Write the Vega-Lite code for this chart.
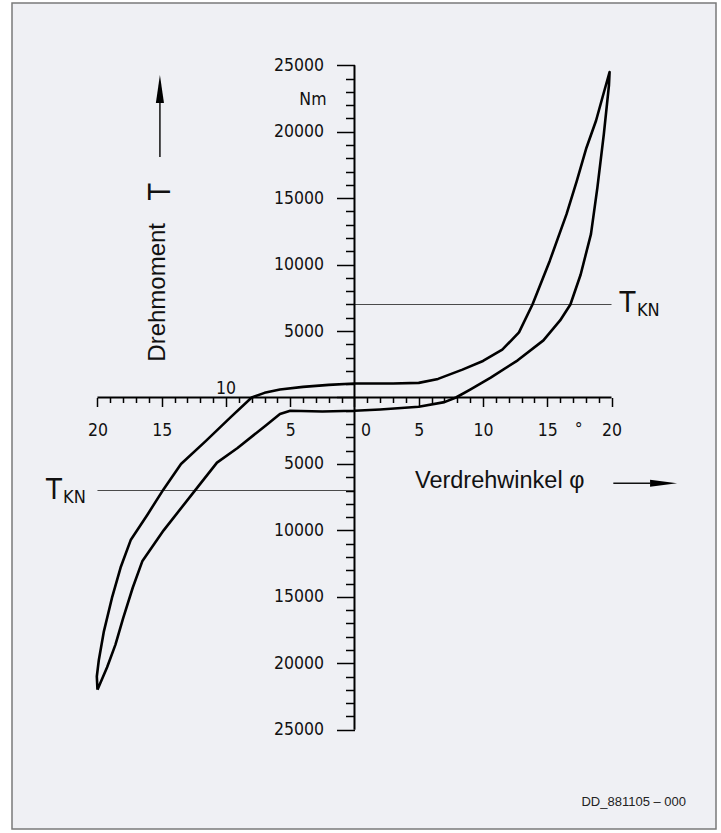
{
  "$schema": "https://vega.github.io/schema/vega-lite/v6.json",
  "width": 704,
  "height": 826,
  "autosize": {"type": "none"},
  "padding": {"left": 12, "top": 3, "right": 5, "bottom": 4},
  "background": "#ffffff",
  "config": {"view": {"fill": "#eff0f4", "stroke": "#7a7a7a", "strokeWidth": 1.5}},
  "datasets": {
    "curve": [
      {"o": 1, "a": -20.0, "t": -22000}, {"o": 2, "a": -20.05, "t": -21000}, {"o": 3, "a": -19.9, "t": -19800},
      {"o": 4, "a": -19.5, "t": -17600}, {"o": 5, "a": -18.85, "t": -15000}, {"o": 6, "a": -18.2, "t": -12800},
      {"o": 7, "a": -17.4, "t": -10700}, {"o": 8, "a": -16.1, "t": -8800}, {"o": 9, "a": -14.85, "t": -6900},
      {"o": 10, "a": -13.5, "t": -5000}, {"o": 11, "a": -11.6, "t": -3300}, {"o": 12, "a": -9.65, "t": -1500},
      {"o": 13, "a": -8.0, "t": 0}, {"o": 14, "a": -7.0, "t": 350}, {"o": 15, "a": -5.8, "t": 600},
      {"o": 16, "a": -4.0, "t": 800}, {"o": 17, "a": -2.0, "t": 950}, {"o": 18, "a": 0, "t": 1050},
      {"o": 19, "a": 3, "t": 1050}, {"o": 20, "a": 5, "t": 1100}, {"o": 21, "a": 6.5, "t": 1400},
      {"o": 22, "a": 8.4, "t": 2100}, {"o": 23, "a": 10.0, "t": 2750}, {"o": 24, "a": 11.5, "t": 3600},
      {"o": 25, "a": 12.8, "t": 4900}, {"o": 26, "a": 13.85, "t": 7000}, {"o": 27, "a": 15.2, "t": 10300},
      {"o": 28, "a": 16.5, "t": 13800}, {"o": 29, "a": 17.3, "t": 16300}, {"o": 30, "a": 18.05, "t": 18800},
      {"o": 31, "a": 18.8, "t": 20850}, {"o": 32, "a": 19.3, "t": 22600}, {"o": 33, "a": 19.85, "t": 24500},
      {"o": 34, "a": 19.8, "t": 23500}, {"o": 35, "a": 19.4, "t": 19800}, {"o": 36, "a": 18.9, "t": 15800},
      {"o": 37, "a": 18.4, "t": 12300}, {"o": 38, "a": 17.6, "t": 9260}, {"o": 39, "a": 16.8, "t": 7000},
      {"o": 40, "a": 16.0, "t": 5800}, {"o": 41, "a": 14.7, "t": 4300}, {"o": 42, "a": 12.7, "t": 2800},
      {"o": 43, "a": 10.6, "t": 1500}, {"o": 44, "a": 9.0, "t": 600}, {"o": 45, "a": 7.9, "t": 0},
      {"o": 46, "a": 7.0, "t": -350}, {"o": 47, "a": 5.0, "t": -700}, {"o": 48, "a": 2.0, "t": -900},
      {"o": 49, "a": 0, "t": -1000}, {"o": 50, "a": -2.5, "t": -1050}, {"o": 51, "a": -5.0, "t": -1000},
      {"o": 52, "a": -5.8, "t": -1250}, {"o": 53, "a": -6.9, "t": -2100}, {"o": 54, "a": -9.1, "t": -3800},
      {"o": 55, "a": -10.7, "t": -4900}, {"o": 56, "a": -12.25, "t": -6800}, {"o": 57, "a": -14.85, "t": -10000},
      {"o": 58, "a": -16.5, "t": -12300}, {"o": 59, "a": -17.25, "t": -14300}, {"o": 60, "a": -18.0, "t": -16600},
      {"o": 61, "a": -18.6, "t": -18600}, {"o": 62, "a": -19.25, "t": -20300}, {"o": 63, "a": -20.0, "t": -22000}
    ],
    "refs": [
      {"a": 0, "a2": 20, "t": 7000, "t2": 7000},
      {"a": -20, "a2": 0, "t": -7000, "t2": -7000}
    ],
    "axislines": [
      {"a": -20, "a2": 20, "t": 0, "t2": 0},
      {"a": 0, "a2": 0, "t": -25000, "t2": 25000}
    ],
    "shafts": [
      {"a": -15.14, "a2": -15.14, "t": 18100, "t2": 22390},
      {"a": 20.14, "a2": 23.0, "t": -6458, "t2": -6458}
    ]
  },
  "encoding": {
    "x": {
      "field": "a", "type": "quantitative",
      "scale": {"domain": [-26.65, 28.13], "nice": false, "zero": false},
      "axis": {
        "orient": "bottom", "offset": -431.5, "title": null, "domain": false, "grid": false,
        "values": [-20,-19,-18,-17,-16,-15,-14,-13,-12,-11,-10,-9,-8,-7,-6,-5,-4,-3,-2,-1,0,1,2,3,4,5,6,7,8,9,10,11,12,13,14,15,16,17,18,19,20],
        "tickSize": {"condition": {"test": "datum.value % 5 === 0", "value": 9}, "value": 5},
        "tickColor": "#000000", "tickWidth": 1.5,
        "labelExpr": "(datum.value % 5 === 0 && datum.value !== -10) ? format(abs(datum.value), 'd') : ''",
        "labelOffset": {"condition": {"test": "datum.value === 0", "value": 11}, "value": 0},
        "labelFont": "DejaVu Sans Condensed, Liberation Sans Narrow, sans-serif",
        "labelFontSize": 17.5, "labelColor": "#111111", "labelPadding": 15,
        "labelOverlap": false, "labelBound": false, "labelFlush": false
      }
    },
    "y": {
      "field": "t", "type": "quantitative",
      "scale": {"domain": [-32478, 29693], "nice": false, "zero": false},
      "axis": {
        "orient": "left", "offset": -342.5, "title": null, "domain": false, "grid": false,
        "values": [-25000,-24000,-23000,-22000,-21000,-20000,-19000,-18000,-17000,-16000,-15000,-14000,-13000,-12000,-11000,-10000,-9000,-8000,-7000,-6000,-5000,-4000,-3000,-2000,-1000,0,1000,2000,3000,4000,5000,6000,7000,8000,9000,10000,11000,12000,13000,14000,15000,16000,17000,18000,19000,20000,21000,22000,23000,24000,25000],
        "tickSize": {"condition": {"test": "datum.value % 5000 === 0", "value": 18}, "value": 9},
        "tickColor": "#000000", "tickWidth": 1.5,
        "labelExpr": "(datum.value % 5000 === 0 && datum.value !== 0) ? format(abs(datum.value), 'd') : ''",
        "labelFont": "DejaVu Sans Condensed, Liberation Sans Narrow, sans-serif",
        "labelFontSize": 17.5, "labelColor": "#111111", "labelPadding": 13,
        "labelOverlap": false, "labelBound": false, "labelFlush": false
      }
    }
  },
  "layer": [
    {
      "data": {"name": "refs"},
      "mark": {"type": "rule", "color": "#4a4a4a", "strokeWidth": 1.2},
      "encoding": {"x2": {"field": "a2"}, "y2": {"field": "t2"}}
    },
    {
      "data": {"name": "axislines"},
      "mark": {"type": "rule", "color": "#000000", "strokeWidth": 2},
      "encoding": {"x2": {"field": "a2"}, "y2": {"field": "t2"}}
    },
    {
      "data": {"name": "curve"},
      "mark": {"type": "line", "color": "#000000", "strokeWidth": 2.6, "strokeJoin": "round"},
      "encoding": {"order": {"field": "o", "type": "quantitative"}}
    },
    {
      "data": {"name": "shafts"},
      "mark": {"type": "rule", "color": "#111111", "strokeWidth": 1.5},
      "encoding": {"x2": {"field": "a2"}, "y2": {"field": "t2"}}
    },
    {
      "data": {"values": [{"a": -15.14, "t": 23220}]},
      "mark": {"type": "point", "shape": "M0,-1L0.29,1L-0.29,1Z", "size": 784, "filled": true, "color": "#000000", "opacity": 1}
    },
    {
      "data": {"values": [{"a": 24.05, "t": -6458}]},
      "mark": {"type": "point", "shape": "M1,0L-1,-0.26L-1,0.26Z", "size": 729, "filled": true, "color": "#000000", "opacity": 1}
    },
    {
      "data": {"values": [{"a": -10, "t": 0, "label": "10"}]},
      "mark": {"type": "text", "align": "center", "baseline": "alphabetic", "dy": -3, "font": "DejaVu Sans Condensed, Liberation Sans Narrow, sans-serif", "fontSize": 17.5, "color": "#111111"},
      "encoding": {"text": {"field": "label"}}
    },
    {
      "data": {"values": [{"a": 17.44, "t": 0, "label": "°"}]},
      "mark": {"type": "text", "align": "center", "baseline": "top", "dy": 24, "font": "DejaVu Sans Condensed, Liberation Sans Narrow, sans-serif", "fontSize": 17.5, "color": "#111111"},
      "encoding": {"text": {"field": "label"}}
    },
    {
      "data": {"values": [{"a": 0, "t": 22400, "label": "Nm"}]},
      "mark": {"type": "text", "align": "right", "baseline": "middle", "dx": -28, "font": "DejaVu Sans Condensed, Liberation Sans Narrow, sans-serif", "fontSize": 17.5, "color": "#111111"},
      "encoding": {"text": {"field": "label"}}
    },
    {
      "data": {"values": [{"a": 21.25, "t": 6405, "label": "T"}, {"a": -23.39, "t": -7611, "label": "T"}]},
      "mark": {"type": "text", "align": "center", "baseline": "alphabetic", "font": "DejaVu Sans Condensed, Liberation Sans Narrow, sans-serif", "fontSize": 29, "color": "#111111"},
      "encoding": {"text": {"field": "label"}}
    },
    {
      "data": {"values": [{"a": 21.98, "t": 6142, "label": "KN"}, {"a": -22.68, "t": -7913, "label": "KN"}]},
      "mark": {"type": "text", "align": "left", "baseline": "alphabetic", "font": "DejaVu Sans Condensed, Liberation Sans Narrow, sans-serif", "fontSize": 18, "color": "#111111"},
      "encoding": {"text": {"field": "label"}}
    },
    {
      "data": {"values": [{"a": -14.75, "t": 2695, "label": "Drehmoment"}]},
      "mark": {"type": "text", "angle": 270, "align": "left", "baseline": "alphabetic", "font": "Liberation Sans, Arial, sans-serif", "fontSize": 24, "color": "#111111"},
      "encoding": {"text": {"field": "label"}}
    },
    {
      "data": {"values": [{"a": -14.36, "t": 14865, "label": "T"}]},
      "mark": {"type": "text", "angle": 270, "align": "left", "baseline": "alphabetic", "font": "DejaVu Sans Condensed, Liberation Sans Narrow, sans-serif", "fontSize": 30, "color": "#111111"},
      "encoding": {"text": {"field": "label"}}
    },
    {
      "data": {"values": [{"a": 4.71, "t": -6834, "label": "Verdrehwinkel φ"}]},
      "mark": {"type": "text", "align": "left", "baseline": "alphabetic", "font": "Liberation Sans, Arial, sans-serif", "fontSize": 23.5, "color": "#111111"},
      "encoding": {"text": {"field": "label"}}
    },
    {
      "data": {"values": [{"a": 25.8, "t": -30747, "label": "DD_881105 – 000"}]},
      "mark": {"type": "text", "align": "right", "baseline": "alphabetic", "font": "Liberation Sans, Arial, sans-serif", "fontSize": 13, "color": "#222222"},
      "encoding": {"text": {"field": "label"}}
    }
  ]
}
